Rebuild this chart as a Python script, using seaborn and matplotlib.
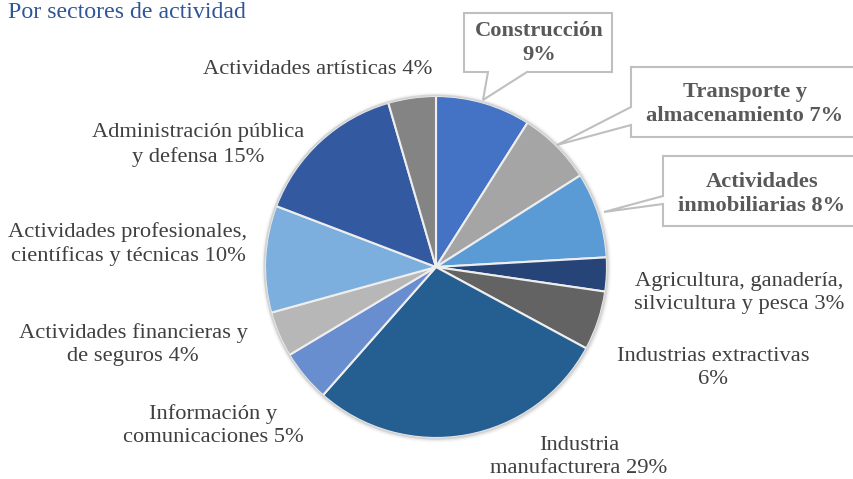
import matplotlib
matplotlib.use("Agg")
import matplotlib.pyplot as plt
import seaborn as sns
from matplotlib.patches import Polygon

sns.set_theme(style="white")
plt.rcParams['font.family'] = ['Liberation Serif', 'DejaVu Serif']

sectores = ["Construcción", "Transporte y almacenamiento", "Actividades inmobiliarias",
            "Agricultura, ganadería, silvicultura y pesca", "Industrias extractivas",
            "Industria manufacturera", "Información y comunicaciones",
            "Actividades financieras y de seguros", "Actividades profesionales, científicas y técnicas",
            "Administración pública y defensa", "Actividades artísticas"]
valores = [9.0, 7.0, 8.1, 3.2, 5.6, 28.6, 4.9, 4.3, 10.1, 14.7, 4.5]
colores = ["#4472C4", "#A5A5A5", "#5B9BD5", "#264478", "#636363", "#255E91",
           "#698ED0", "#B7B7B7", "#7CAFDD", "#335AA1", "#848484"]
etiquetas = ["Construcción\n9%", "Transporte y\nalmacenamiento 7%", "Actividades\ninmobiliarias 8%",
             "Agricultura, ganadería,\nsilvicultura y pesca 3%", "Industrias extractivas\n6%",
             "Industria\nmanufacturera 29%", "Información y\ncomunicaciones 5%",
             "Actividades financieras y\nde seguros 4%", "Actividades profesionales,\ncientíficas y técnicas 10%",
             "Administración pública\ny defensa 15%", "Actividades artísticas 4%"]
titulo = "Por sectores de actividad"

W, H = 854, 479
fig = plt.figure(figsize=(W / 100, H / 100), dpi=100)
ax = fig.add_axes([0, 0, 1, 1])

def Y(y):
    return H - y

cx, cy, r = 436, 267, 171
# faint shadow ring
for k, a in [(4, 0.06), (2.5, 0.10), (1.2, 0.16)]:
    ax.add_patch(plt.Circle((cx + 0.5, Y(cy) - 0.5), r + k, facecolor="#808080",
                            edgecolor="none", alpha=a, zorder=0))
ax.pie(valores, colors=colores, startangle=90, counterclock=False,
       center=(cx, Y(cy)), radius=r,
       wedgeprops=dict(edgecolor="#EEEEEE", linewidth=1.5))
circ = plt.Circle((cx, Y(cy)), r + 0.5, fill=False, edgecolor="#D4D4D4", linewidth=1.3, zorder=3)
ax.add_patch(circ)

ax.set_xlim(0, W)
ax.set_ylim(0, H)
ax.set_aspect("auto")
ax.axis("off")

ax.text(8, Y(12), titulo, fontsize=17.2, color="#2F5597", ha="left", va="center")

txt = "#404040"
LS = 1.28
plain = {
    10: (318, 69),
    9: (198, 145),
    8: (128, 244),
    7: (133, 345),
    6: (213, 426),
    5: (579, 457),
    4: (713, 368),
    3: (739, 293),
}
for i, (x, y) in plain.items():
    ax.text(x, Y(y), etiquetas[i], fontsize=16.2, color=txt, ha="center", va="center",
            linespacing=LS)

box_col = "#BFBFBF"
bold_kw = dict(fontsize=16.2, fontweight="bold", color="#595959", ha="center",
               va="center", linespacing=LS, zorder=5)
# Construcción callout
poly = Polygon([(464, Y(13)), (612, Y(13)), (612, Y(72)), (527, Y(72)), (483, Y(100)),
                (488, Y(72)), (464, Y(72))], closed=True, facecolor="white",
               edgecolor=box_col, linewidth=1.5, zorder=4)
ax.add_patch(poly)
ax.text(539, Y(43), etiquetas[0], **bold_kw)

# Transporte callout
poly = Polygon([(631, Y(67)), (870, Y(67)), (870, Y(137)), (631, Y(137)), (631, Y(125)),
                (557, Y(145)), (631, Y(107))], closed=True, facecolor="white",
               edgecolor=box_col, linewidth=1.5, zorder=4)
ax.add_patch(poly)
ax.text(745, Y(104), etiquetas[1], **bold_kw)

# Inmobiliarias callout
poly = Polygon([(663, Y(156)), (870, Y(156)), (870, Y(226)), (663, Y(226)), (663, Y(204)),
                (604, Y(212)), (663, Y(196))], closed=True, facecolor="white",
               edgecolor=box_col, linewidth=1.5, zorder=4)
ax.add_patch(poly)
ax.text(762, Y(194), etiquetas[2], **bold_kw)

fig.savefig("out.png", dpi=100)
